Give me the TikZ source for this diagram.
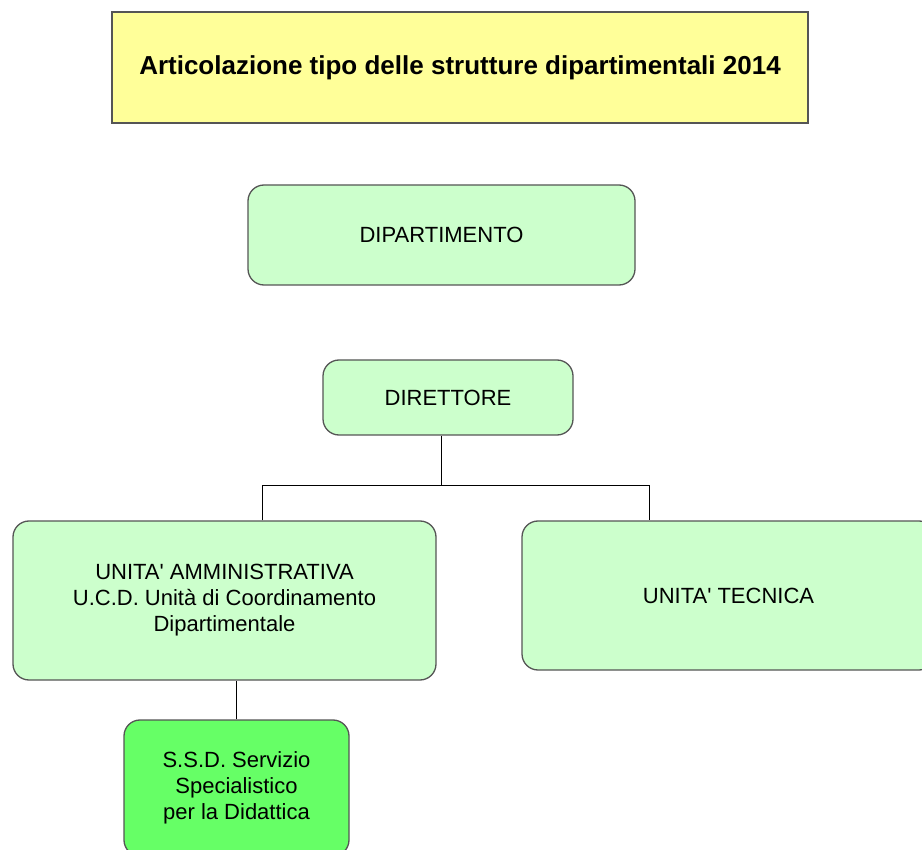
\documentclass[tikz,border=0pt]{standalone}
\usepackage{fontspec}
\setmainfont{Liberation Sans}
\usepackage{tikz}

\definecolor{titolo}{HTML}{FFFF99}
\definecolor{verdino}{HTML}{CCFFCC}
\definecolor{verde}{HTML}{66FF66}
\definecolor{bordo}{HTML}{555555}

\begin{document}
\begin{tikzpicture}[x=1pt,y=-1pt,
    box/.style={draw=bordo,line width=1.3pt,rounded corners=16pt,fill=verdino,
      align=center,inner sep=0pt,font=\fontsize{22}{26}\selectfont},
    link/.style={draw=black,line width=1pt}]

    \useasboundingbox (0,0) rectangle (922,850);
    \clip (0,0) rectangle (922,850);

    % Title
    \node[draw=bordo,line width=1.3pt,fill=titolo,minimum width=696pt,minimum height=111pt,
      font=\fontsize{26}{30}\selectfont\bfseries] (titolo) at (460,67.5)
      {Articolazione tipo delle strutture dipartimentali 2014};

    % Boxes
    \node[box,minimum width=387pt,minimum height=100pt] (dip) at (441.5,235) {DIPARTIMENTO};
    \node[box,minimum width=250pt,minimum height=75pt] (dir) at (448,397.5) {DIRETTORE};
    \node[box,minimum width=423pt,minimum height=159pt] (ua) at (224.5,600.5)
      {UNITA\textquotesingle{} AMMINISTRATIVA\\U.C.D. Unità di Coordinamento\\Dipartimentale};
    \node[box,minimum width=413pt,minimum height=149pt] (ut) at (728.5,595.5) {UNITA\textquotesingle{} TECNICA};
    \node[box,fill=verde,minimum width=225pt,minimum height=136pt] (ssd) at (236.5,788)
      {S.S.D. Servizio\\Specialistico\\per la Didattica};

    % Connectors
    \coordinate (nodo) at (441,486);
    \coordinate (sx) at (262,486);
    \coordinate (dx) at (649,486);
    \draw[link] (nodo |- dir.south) -- (nodo);
    \draw[link] (sx |- ua.north) -- (sx) -- (dx) -- (dx |- ut.north);
    \draw[link] (ssd.north) -- (ssd.north |- ua.south);

\end{tikzpicture}
\end{document}
